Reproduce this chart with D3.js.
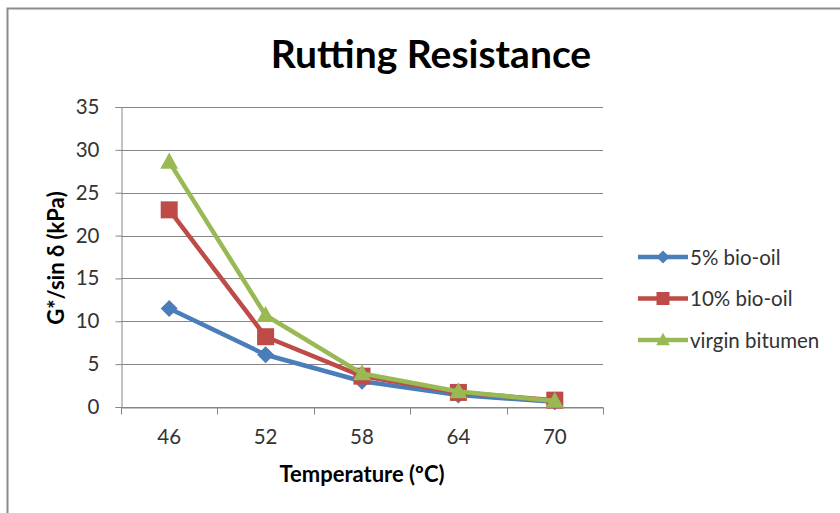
<!DOCTYPE html>
<html>
<head>
<meta charset="utf-8">
<script src="https://cdn.jsdelivr.net/npm/d3@7"></script>
<style>
  body { margin: 0; background: #fff; }
</style>
</head>
<body>
<div id="chart"></div>
<script>
// Data
const temperatures = ["46", "52", "58", "64", "70"];
const bio5 = [11.5, 6.1, 3.0, 1.4, 0.6];
const bio10 = [23.0, 8.2, 3.6, 1.7, 0.8];
const virgin = [28.6, 10.7, 3.9, 1.8, 0.7];
const yTicks = [0, 5, 10, 15, 20, 25, 30, 35];

const series = [
  { name: "5% bio-oil", values: bio5, color: "#4A7EBB", symbol: "diamond" },
  { name: "10% bio-oil", values: bio10, color: "#BE4B48", symbol: "square" },
  { name: "virgin bitumen", values: virgin, color: "#98B954", symbol: "triangle" }
];

const width = 840;
const height = 513;
const font = "Lato, 'Open Sans', sans-serif";

const svg = d3.select("#chart")
  .append("svg")
  .attr("width", width)
  .attr("height", height)
  .style("font-family", font);

// Outer frame (only left and top edges visible in the crop)
svg.append("path")
  .attr("d", "M7.5,513 V8.5 H840")
  .attr("fill", "none")
  .attr("stroke", "#8c8c8c")
  .attr("stroke-width", 2);

// Plot area
const plot = { left: 121, right: 603, top: 107, bottom: 407 };

const x = d3.scaleBand()
  .domain(temperatures)
  .range([plot.left, plot.right]);

const y = d3.scaleLinear()
  .domain([0, 35])
  .range([plot.bottom, plot.top]);

// Gridlines
svg.append("g")
  .selectAll("line")
  .data(yTicks)
  .join("line")
  .attr("x1", plot.left)
  .attr("x2", plot.right)
  .attr("y1", d => Math.round(y(d)) + 0.5)
  .attr("y2", d => Math.round(y(d)) + 0.5)
  .attr("stroke", "#868686")
  .attr("stroke-width", 1);

// Y axis
const yAxis = svg.append("g")
  .attr("transform", `translate(${plot.left + 0.5},0)`)
  .call(d3.axisLeft(y).tickValues(yTicks).tickSize(6).tickPadding(16));

// X axis
const xAxis = svg.append("g")
  .attr("transform", `translate(0,${plot.bottom + 0.5})`)
  .call(d3.axisBottom(x).tickSize(0).tickPadding(22));

// category boundary ticks
const bounds = temperatures.map(d => x(d)).concat([plot.right]);
xAxis.selectAll(".bound")
  .data(bounds)
  .join("line")
  .attr("class", "bound")
  .attr("x1", d => Math.round(d) + 0.5)
  .attr("x2", d => Math.round(d) + 0.5)
  .attr("y1", 0)
  .attr("y2", 7)
  .attr("stroke", "#868686");

[yAxis, xAxis].forEach(a => {
  a.select(".domain").attr("stroke", "#868686");
  a.selectAll(".tick line").attr("stroke", "#868686");
  a.selectAll("text")
    .attr("fill", "#333")
    .style("font-size", "20.5px")
    .style("font-family", font);
});

// Lines and markers
const line = d3.line()
  .x((d, i) => x(temperatures[i]) + x.bandwidth() / 2)
  .y(d => y(d));

function marker(g, s, size) {
  if (s.symbol === "diamond") {
    g.append("path")
      .attr("d", `M0,${-size}L${size},0L0,${size}L${-size},0Z`)
      .attr("fill", s.color);
  } else if (s.symbol === "square") {
    g.append("rect")
      .attr("x", -size).attr("y", -size)
      .attr("width", size * 2).attr("height", size * 2)
      .attr("fill", s.color);
  } else {
    g.append("path")
      .attr("d", `M0,${-size * 1.1}L${size * 1.05},${size * 0.8}L${-size * 1.05},${size * 0.8}Z`)
      .attr("fill", s.color);
  }
}

series.forEach(s => {
  svg.append("path")
    .datum(s.values)
    .attr("d", line)
    .attr("fill", "none")
    .attr("stroke", s.color)
    .attr("stroke-width", 4.5)
    .attr("stroke-linejoin", "round");

  s.values.forEach((v, i) => {
    const g = svg.append("g")
      .attr("transform", `translate(${x(temperatures[i]) + x.bandwidth() / 2},${y(v)})`);
    marker(g, s, 8.5);
  });
});

// Title
svg.append("text")
  .attr("x", 431)
  .attr("y", 68)
  .attr("text-anchor", "middle")
  .style("font-size", "39px")
  .style("font-weight", "bold")
  .attr("fill", "#000")
  .text("Rutting Resistance");

// Axis titles
svg.append("text")
  .attr("transform", `translate(64,258) rotate(-90)`)
  .attr("text-anchor", "middle")
  .style("font-size", "22px")
  .style("font-weight", "bold")
  .attr("fill", "#000")
  .text("G*/sin δ (kPa)");

svg.append("text")
  .attr("x", 362)
  .attr("y", 482)
  .attr("text-anchor", "middle")
  .style("font-size", "22px")
  .style("font-weight", "bold")
  .attr("fill", "#000")
  .text("Temperature (ºC)");

// Legend
const legend = svg.append("g");
series.forEach((s, i) => {
  const ly = 257 + i * 41.5;
  legend.append("line")
    .attr("x1", 638).attr("x2", 688)
    .attr("y1", ly).attr("y2", ly)
    .attr("stroke", s.color)
    .attr("stroke-width", 4.5);
  const g = legend.append("g").attr("transform", `translate(663,${ly})`);
  marker(g, s, 6.5);
  legend.append("text")
    .attr("x", 690)
    .attr("y", ly + 7.5)
    .style("font-size", "20.5px")
    .attr("fill", "#333")
    .text(s.name);
});
</script>
</body>
</html>
